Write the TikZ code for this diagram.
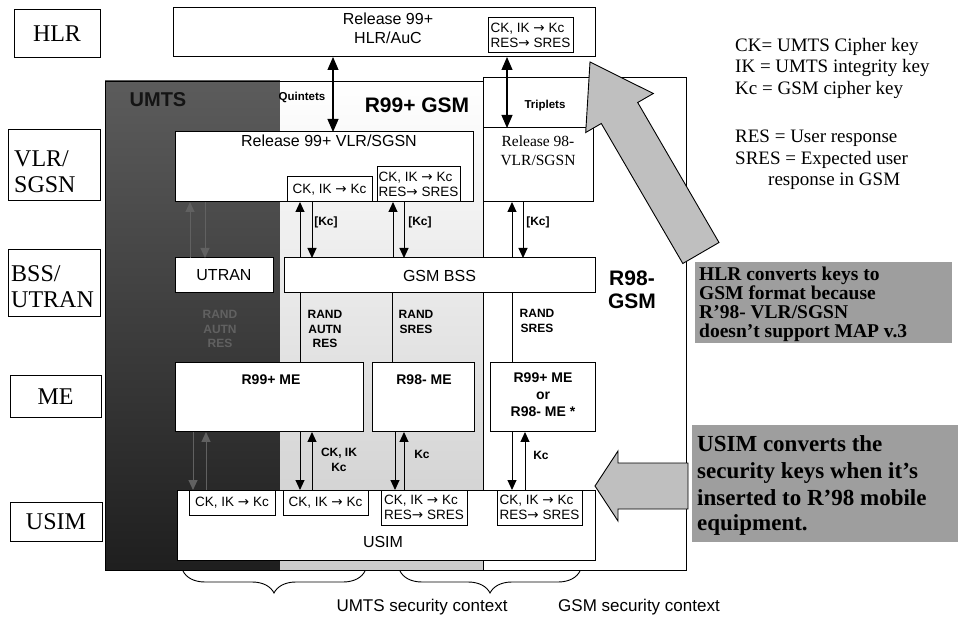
\documentclass[tikz,border=0pt]{standalone}
\usepackage{fontspec}
\setmainfont{Liberation Serif}
\newfontfamily\ars{Liberation Sans}
\newfontfamily\djv{DejaVu Sans}
\usetikzlibrary{arrows.meta,decorations.pathreplacing}
\newcommand{\rar}{{\djv →}}
\begin{document}
\begin{tikzpicture}[x=1pt,y=-1pt,
  bx/.style={draw, line width=1pt, fill=white, inner sep=0pt, outer sep=0pt, anchor=north west},
  sidelbl/.style={font=\fontsize{24}{26}\selectfont, align=left, inner sep=0pt},
  sans/.style={font=\ars\fontsize{16}{18}\selectfont, inner sep=0pt},
  keytxt/.style={font=\ars\fontsize{13.5}{15}\selectfont, align=left, inner sep=0pt},
  tag/.style={font=\ars\bfseries\fontsize{12}{14.5}\selectfont, align=center, inner sep=0pt},
  big/.style={font=\ars\bfseries\fontsize{21}{23}\selectfont, inner sep=0pt},
  metxt/.style={font=\ars\bfseries\fontsize{14}{17}\selectfont, inner sep=0pt},
  link/.style={line width=1pt},
  onearrow/.style={line width=1pt, -{Triangle[length=10pt,width=9pt]}},
  twoarrow/.style={line width=1.1pt, {Triangle[length=13pt,width=11pt]}-{Triangle[length=13pt,width=11pt]}},
  faint/.style={draw=black!62, text=black!62},
  blockarrow/.style={draw, line width=0.9pt, fill=black!25},
  note/.style={fill=black!38},
  notetxt/.style={font=\bfseries\fontsize{19.5}{19.5}\selectfont, anchor=base west, inner sep=0pt},
  bignote/.style={font=\bfseries\fontsize{23}{23}\selectfont, anchor=base west, inner sep=0pt},
  legtxt/.style={font=\fontsize{19}{21}\selectfont, anchor=base west, inner sep=0pt},
  ctx/.style={font=\ars\fontsize{17}{19}\selectfont, inner sep=0pt},
  curly/.style={decorate, decoration={brace, mirror, amplitude=22pt}, line width=0.9pt},
]
\useasboundingbox (0,0) rectangle (964,617);
\fill[white] (0,0) rectangle (964,617);

% regions
\fill[top color=black!64, bottom color=black!88] (105,81) rectangle (280,570);
\fill[top color=white, bottom color=black!20] (280,81) rectangle (483,570);
\draw[line width=0.9pt] (105,81) -- (483,81) -- (483,77) -- (686,77) -- (686,570) -- (105,570) -- cycle;
\draw[line width=0.9pt] (483,77) -- (483,570);

% left labels
\node[bx, minimum width=86pt, minimum height=48pt] (hlrL) at (14,10) {};
\node[sidelbl] (hlrLt) at (hlrL.center) {HLR};
\node[bx, minimum width=92pt, minimum height=71pt] (vlrL) at (8,130) {};
\node[sidelbl, anchor=west] (vlrLt) at (14,172) {VLR/\\SGSN};
\node[bx, minimum width=92pt, minimum height=67pt] (bssL) at (8,250) {};
\node[sidelbl, anchor=west] (bssLt) at (11,287) {BSS/\\UTRAN};
\node[bx, minimum width=91pt, minimum height=42pt] (meL) at (10,376) {};
\node[sidelbl] (meLt) at (meL.center) {ME};
\node[bx, minimum width=92pt, minimum height=39pt] (usimL) at (10,502) {};
\node[sidelbl] (usimLt) at (usimL.center) {USIM};

% HLR
\node[bx, minimum width=422pt, minimum height=49pt] (hlr) at (173,8) {};
\node[sans] (hlrt1) at (388,19) {Release 99+};
\node[sans] (hlrt2) at (388,38) {HLR/AuC};
\node[bx, keytxt, minimum width=85pt, minimum height=35pt] (hlrcv) at (488,18) {CK, IK \rar{} Kc\\RES\rar{} SRES};

% VLR
\node[bx, minimum width=298pt, minimum height=70pt] (vlr99) at (175,132) {};
\node[sans] (vlr99t) at (329,141) {Release 99+ VLR/SGSN};
\node[bx, keytxt, minimum width=85pt, minimum height=25pt] (vlr99a) at (287,177) {CK, IK \rar{} Kc};
\node[bx, keytxt, minimum width=83pt, minimum height=35pt] (vlr99b) at (377,167) {CK, IK \rar{} Kc\\RES\rar{} SRES};
\node[bx, minimum width=110pt, minimum height=74pt] (vlr98) at (483,128) {};
\node[font=\fontsize{15.5}{19}\selectfont, inner sep=0pt, align=center] (vlr98t) at (538,151) {Release 98-\\VLR/SGSN};

% BSS
\node[bx, sans, minimum width=98pt, minimum height=35pt] (utran) at (175,258) {UTRAN};
\node[bx, sans, minimum width=311pt, minimum height=35pt] (bss) at (284,258) {GSM BSS};

% ME
\node[bx, minimum width=188pt, minimum height=69pt] (me99) at (175,363) {};
\node[metxt] (me99t) at (271,380) {R99+ ME};
\node[bx, minimum width=102pt, minimum height=69pt] (me98) at (372,363) {};
\node[metxt] (me98t) at (424,380) {R98- ME};
\node[bx, minimum width=105pt, minimum height=69pt] (meX) at (490,363) {};
\node[metxt, align=center] (meXt) at (543,395) {R99+ ME\\or\\R98- ME *};

% USIM
\node[bx, minimum width=418pt, minimum height=70pt] (usim) at (177,490) {};
\node[sans] (usimt) at (383,542) {USIM};
\node[bx, keytxt, minimum width=86pt, minimum height=25pt] (usimA) at (189,490) {CK, IK \rar{} Kc};
\node[bx, keytxt, minimum width=85pt, minimum height=25pt] (usimB) at (283,490) {CK, IK \rar{} Kc};
\node[bx, keytxt, minimum width=86pt, minimum height=35pt] (usimC) at (381,490) {CK, IK \rar{} Kc\\RES\rar{} SRES};
\node[bx, keytxt, minimum width=85pt, minimum height=35pt] (usimD) at (497,490) {CK, IK \rar{} Kc\\RES\rar{} SRES};

% column coordinates
\foreach \n/\xx in {a/190, b/193, c/205, d/206, e/300, f/312, g/333, h/392, i/393, j/395, k/404, l/507, m/512, n/523, o/525}
  \coordinate (x\n) at (\xx,0);

% connectors
\draw[twoarrow] (hlr.south -| xg) -- (vlr99.north -| xg);
\draw[twoarrow] (hlr.south -| xl) -- (vlr98.north -| xl);
\draw[onearrow] (bss.north -| xe) -- (vlr99a.south -| xe);
\draw[onearrow] (vlr99a.south -| xf) -- (bss.north -| xf);
\draw[onearrow] (bss.north -| xi) -- (vlr99b.south -| xi);
\draw[onearrow] (vlr99b.south -| xk) -- (bss.north -| xk);
\draw[onearrow] (bss.north -| xm) -- (vlr98.south -| xm);
\draw[onearrow] (vlr98.south -| xn) -- (bss.north -| xn);
\draw[link] (bss.south -| xe) -- (me99.north -| xe);
\draw[link] (bss.south -| xh) -- (me98.north -| xh);
\draw[link] (bss.south -| xm) -- (meX.north -| xm);
\draw[onearrow] (me99.south -| xe) -- (usimB.north -| xe);
\draw[onearrow] (usimB.north -| xf) -- (me99.south -| xf);
\draw[onearrow] (me98.south -| xj) -- (usimC.north -| xj);
\draw[onearrow] (usimC.north -| xk) -- (me98.south -| xk);
\draw[onearrow] (meX.south -| xm) -- (usimD.north -| xm);
\draw[onearrow] (usimD.north -| xo) -- (meX.south -| xo);
\draw[onearrow, faint] (utran.north -| xa) -- (vlr99.south -| xa);
\draw[onearrow, faint] (vlr99.south -| xc) -- (utran.north -| xc);
\draw[onearrow, faint] (me99.south -| xb) -- (usimA.north -| xb);
\draw[onearrow, faint] (usimA.north -| xd) -- (me99.south -| xd);

% labels
\node[tag, font=\ars\bfseries\fontsize{11.5}{13}\selectfont] (quin) at (302,97) {Quintets};
\node[tag, font=\ars\bfseries\fontsize{11.5}{13}\selectfont] (trip) at (545,106) {Triplets};
\node[big] (r99gsm) at (417,105) {R99+ GSM};
\node[big, text=black!92, font=\ars\bfseries\fontsize{20}{22}\selectfont] (umts) at (158,100) {UMTS};
\node[tag] (kc1) at (326,222) {[Kc]};
\node[tag] (kc2) at (420,222) {[Kc]};
\node[tag] (kc3) at (538,222) {[Kc]};
\node[tag] (rnd1) at (325,329) {RAND\\AUTN\\RES};
\node[tag] (rnd2) at (416,322) {RAND\\SRES};
\node[tag] (rnd3) at (537,321) {RAND\\SRES};
\node[tag, text=black!62] (rnd0) at (220,329) {RAND\\AUTN\\RES};
\node[tag] (ck1) at (339,460) {CK, IK\\Kc};
\node[tag] (kc4) at (422,454) {Kc};
\node[tag] (kc5) at (541,455) {Kc};
\node[big, align=center] (r98gsm) at (632,290) {R98-\\GSM};

% block arrows
\filldraw[blockarrow] (719,242.5) -- (637.7,102.5) -- (653.3,93.5) -- (590,62) -- (585.7,132.5) -- (601.3,123.5) -- (682.8,263.5) -- cycle;
\filldraw[blockarrow] (595,486) -- (618,451) -- (618,463) -- (688,463) -- (688,509) -- (618,509) -- (618,521) -- cycle;

% notes
\fill[note] (695,262) rectangle (952,343);
\node[notetxt] (n1a) at (699,281) {HLR converts keys to};
\node[notetxt] (n1b) at (699,300) {GSM format because};
\node[notetxt] (n1c) at (699,319) {R'98- VLR/SGSN};
\node[notetxt] (n1d) at (699,338) {doesn't support MAP v.3};
\fill[note] (692,425) rectangle (958,542);
\node[bignote] (n2a) at (697,451) {USIM converts the};
\node[bignote] (n2b) at (697,478) {security keys when it's};
\node[bignote] (n2c) at (697,505) {inserted to R'98 mobile};
\node[bignote] (n2d) at (697,530) {equipment.};

% legend
\node[legtxt] (lg1) at (735,52) {CK= UMTS Cipher key};
\node[legtxt] (lg2) at (735,73) {IK = UMTS integrity key};
\node[legtxt] (lg3) at (735,95) {Kc = GSM cipher key};
\node[legtxt] (lg4) at (735,143) {RES = User response};
\node[legtxt] (lg5) at (735,165) {SRES = Expected user};
\node[legtxt] (lg6) at (768,186) {response in GSM};

% braces
\draw[curly] (183,571) -- (365,571);
\draw[curly] (400,571) -- (580,571);
\node[ctx] (ctxU) at (422,607) {UMTS security context};
\node[ctx] (ctxG) at (639,607) {GSM security context};
\end{tikzpicture}
\end{document}
